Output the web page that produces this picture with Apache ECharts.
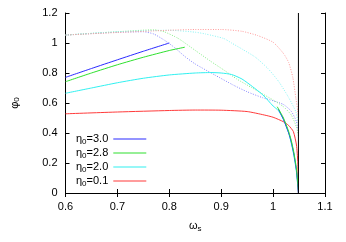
<!DOCTYPE html>
<html><head><meta charset="utf-8">
<script src="https://cdn.jsdelivr.net/npm/echarts@6/dist/echarts.min.js"></script>
<style>html,body{margin:0;padding:0;background:#fff}#c{width:346px;height:242px}</style>
</head><body><div id="c"></div>
<script>
// ---- data (ω_s, φ0) ----
const etaLabels = ['3.0', '2.8', '2.0', '0.1'];
const xTicks = [0.6, 0.7, 0.8, 0.9, 1.0, 1.1];
const yTicks = [0, 0.2, 0.4, 0.6, 0.8, 1.0, 1.2];
const omegaMax = 1.0488;

const blueSolidA = [[0.6,0.771],[0.65,0.83],[0.7,0.888],[0.75,0.945],[0.8,1.0]];
const blueSolidB = [[1.01,0.56],[1.02,0.49],[1.03,0.40],[1.035,0.34],[1.04,0.26],[1.045,0.15],[1.0488,0.0]];
const blueDotted = [[0.6,1.053],[0.65,1.063],[0.7,1.072],[0.75,1.075],[0.77,1.06],[0.79,1.02],[0.81,0.97],[0.83,0.91],[0.85,0.86],[0.886,0.79],[0.923,0.72],[0.95,0.675],[0.98,0.635],[1.0,0.615],[1.02,0.59],[1.035,0.545],[1.045,0.475],[1.0488,0.40]];

const greenSolidA = [[0.6,0.742],[0.65,0.80],[0.7,0.855],[0.75,0.905],[0.8,0.95],[0.83,0.972]];
const greenSolidB = [[1.008,0.575],[1.02,0.50],[1.03,0.41],[1.035,0.35],[1.04,0.27],[1.045,0.16],[1.0488,0.02]];
const greenDotted = [[0.6,1.053],[0.7,1.075],[0.77,1.088],[0.79,1.075],[0.817,1.031],[0.849,0.953],[0.881,0.875],[0.905,0.82],[0.93,0.76],[0.96,0.70],[0.98,0.66],[1.0,0.62],[1.02,0.575],[1.035,0.52],[1.045,0.44],[1.0488,0.38]];

const cyanSolid = [[0.6,0.665],[0.65,0.70],[0.7,0.735],[0.75,0.765],[0.8,0.787],[0.85,0.80],[0.88,0.803],[0.9,0.80],[0.92,0.79],[0.94,0.76],[0.96,0.71],[0.98,0.655],[1.0,0.58],[1.01,0.55],[1.02,0.49],[1.03,0.40],[1.035,0.333],[1.04,0.25],[1.045,0.14],[1.0488,0.0]];
const cyanDotted = [[0.6,1.053],[0.7,1.075],[0.8,1.085],[0.85,1.072],[0.87,1.06],[0.905,1.03],[0.92,1.0],[0.94,0.96],[0.966,0.905],[0.99,0.83],[1.011,0.742],[1.029,0.642],[1.044,0.54],[1.0488,0.45]];

const redSolid = [[0.6,0.528],[0.7,0.54],[0.8,0.55],[0.85,0.553],[0.9,0.552],[0.95,0.543],[0.983,0.52],[1.0,0.505],[1.02,0.475],[1.03,0.45],[1.039,0.41],[1.045,0.32],[1.0475,0.21],[1.0488,0.0]];
const redDotted = [[0.6,1.053],[0.7,1.07],[0.8,1.085],[0.85,1.09],[0.9,1.09],[0.94,1.078],[0.97,1.05],[1.0,1.005],[1.02,0.93],[1.03,0.87],[1.038,0.77],[1.044,0.63],[1.0475,0.55],[1.0488,0.50]];

const verticalLine = [[omegaMax, 0], [omegaMax, 1.2]];

const colors = { b: '#2a2aff', g: '#2ee02e', c: '#30f0f0', r: '#ff3b3b' };
const dotColors = { b: '#8888ff', g: '#88ee88', c: '#88f4f4', r: '#ff9a9a' };
const names = etaLabels.map(l => 'η0=' + l);

function solid(name, data, col) {
  return { name, type: 'line', data, symbol: 'none', smooth: 0.2,
    lineStyle: { color: col, width: 1 }, itemStyle: { color: col }, z: 3, silent: true };
}
function dotted(name, data, col) {
  return { name, type: 'line', data, symbol: 'none', smooth: 0.2,
    lineStyle: { color: col, width: 1, type: [1, 1.5] }, itemStyle: { color: col }, z: 2, silent: true };
}

const axisFont = { fontFamily: 'Liberation Sans', fontSize: 11, color: '#000' };
const fmt = v => String(+(+v).toFixed(1));
const subRich = {
  a: { fontSize: 11, lineHeight: 14, fontFamily: 'Liberation Sans', color: '#000' },
  s: { fontSize: 8, lineHeight: 8, padding: [5, 0, 0, 0], fontFamily: 'Liberation Sans', color: '#000' }
};

const chart = echarts.init(document.getElementById('c'), null, { renderer: 'canvas' });
chart.setOption({
  animation: false,
  backgroundColor: '#fff',
  grid: { left: 56, right: 21, top: 13, bottom: 49 },
  legend: {
    orient: 'vertical', left: 76, top: 132, align: 'right',
    data: names, icon: 'rect', itemWidth: 33, itemHeight: 1, itemGap: 0,
    selectedMode: false, padding: 0,
    formatter: name => '{a|η}{s|0}{a|' + name.slice(2) + '}',
    textStyle: { fontFamily: 'Liberation Sans', fontSize: 11, color: '#000', lineHeight: 14, rich: subRich }
  },
  xAxis: [
    { type: 'value', min: xTicks[0], max: xTicks[xTicks.length-1], interval: 0.1, position: 'bottom',
      axisLine: { lineStyle: { color: '#000', width: 1 } },
      axisTick: { inside: true, length: 4, lineStyle: { color: '#000' } },
      axisLabel: Object.assign({ margin: 8, formatter: fmt }, axisFont),
      splitLine: { show: false },
      name: '{a|ω}{s|s}', nameLocation: 'middle', nameGap: 26,
      nameTextStyle: { rich: subRich } },
    { type: 'value', min: xTicks[0], max: xTicks[xTicks.length-1], interval: 0.1, position: 'top',
      axisLine: { lineStyle: { color: '#000', width: 1 } },
      axisTick: { inside: true, length: 4, lineStyle: { color: '#000' } },
      axisLabel: { show: false }, splitLine: { show: false } }
  ],
  yAxis: [
    { type: 'value', min: yTicks[0], max: yTicks[yTicks.length-1], interval: 0.2, position: 'left',
      axisLine: { show: true, lineStyle: { color: '#000', width: 1 } },
      axisTick: { show: true, inside: true, length: 4, lineStyle: { color: '#000' } },
      axisLabel: Object.assign({ margin: 8, formatter: fmt }, axisFont),
      splitLine: { show: false },
      name: '{a|φ}{s|0}', nameLocation: 'middle', nameGap: 44, nameRotate: 90,
      nameTextStyle: { rich: subRich } },
    { type: 'value', min: yTicks[0], max: yTicks[yTicks.length-1], interval: 0.2, position: 'right',
      axisLine: { show: true, lineStyle: { color: '#000', width: 1 } },
      axisTick: { show: true, inside: true, length: 4, lineStyle: { color: '#000' } },
      axisLabel: { show: false }, splitLine: { show: false } }
  ],
  series: [
    solid(names[0], blueSolidA, colors.b),
    solid(names[1], greenSolidA, colors.g),
    solid(names[2], cyanSolid, colors.c),
    solid(names[3], redSolid, colors.r),
    solid(names[0], blueSolidB, colors.b),
    solid(names[1], greenSolidB, colors.g),
    dotted(names[0], blueDotted, dotColors.b),
    dotted(names[1], greenDotted, dotColors.g),
    dotted(names[2], cyanDotted, dotColors.c),
    dotted(names[3], redDotted, dotColors.r),
    { name: 'omegaMax', type: 'line', data: verticalLine, symbol: 'none', silent: true, z: 4,
      lineStyle: { color: '#000', width: 1 } }
  ]
});
</script></body></html>
